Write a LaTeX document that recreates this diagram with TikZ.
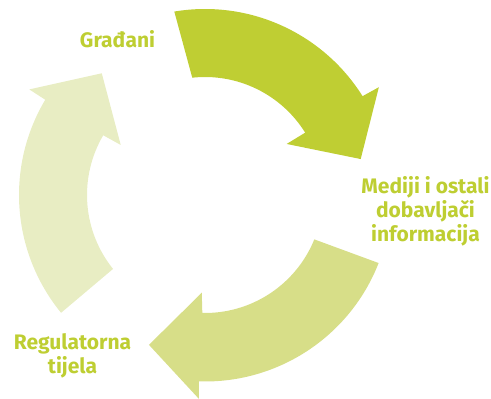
\documentclass[tikz,border=0pt]{standalone}
\usepackage{fontspec}
\setmainfont{Fira Sans}
\definecolor{txtgreen}{RGB}{190,206,50}
\definecolor{arrowA}{RGB}{191,206,51}
\definecolor{arrowB}{RGB}{215,222,136}
\definecolor{arrowC}{RGB}{232,237,195}
\tikzset{
  lbl/.style={text=txtgreen, font=\bfseries\fontsize{21}{25}\selectfont, inner sep=0pt, anchor=base},
}
\begin{document}
\begin{tikzpicture}[x=1pt,y=1pt]
\useasboundingbox (0,0) rectangle (491,399);
\begin{scope}[shift={(205,204)}]
  % top arrow (dark)
  \fill[arrowA] (99.5:186) arc[start angle=99.5, end angle=32.1, radius=186]
     -- (31.8:204.6) -- (13.0:159.8) -- (32.0:96.3) -- (31.9:118)
     arc[start angle=31.9, end angle=96.2, radius=118] -- cycle;
  % bottom arrow (medium)
  \fill[arrowB] (-21.4:186.5) arc[start angle=-21.4, end angle=-91.9, radius=186.5]
     -- (-91.7:204) -- (-110.5:160) -- (-91.9:97.8) -- (-91.3:118)
     arc[start angle=-91.3, end angle=-22.1, radius=118] -- cycle;
  % left arrow (light)
  \fill[arrowC] (219.3:186) arc[start angle=219.3, end angle=149.2, radius=186]
     -- (149.0:205) -- (130.3:159.6) -- (149.3:98) -- (149.6:118)
     arc[start angle=149.6, end angle=218.8, radius=118] -- cycle;
\end{scope}
\node[lbl] (gradjani) at (117.5,351) {Građani};
\node[lbl] (med1) at (425.5,205.5) {Mediji i ostali};
\node[lbl] (med2) at (425.5,181) {dobavljači};
\node[lbl] (med3) at (425.5,157) {informacija};
\node[lbl] (reg1) at (72.5,49.5) {Regulatorna};
\node[lbl] (reg2) at (72.5,25) {tijela};
\end{tikzpicture}
\end{document}
